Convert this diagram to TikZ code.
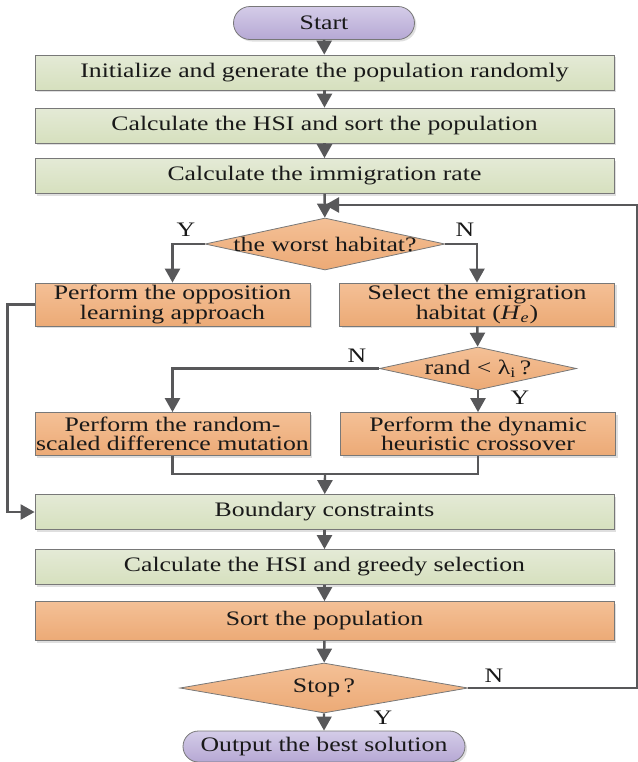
\documentclass[tikz,border=0pt]{standalone}
\usepackage{fontspec}
\setmainfont{Liberation Serif}[FakeStretch=1.25]
\definecolor{edgegray}{RGB}{120,120,120}
\definecolor{arrgray}{RGB}{88,88,90}
\definecolor{greentop}{RGB}{228,234,214}
\definecolor{greenbot}{RGB}{214,224,190}
\definecolor{orangetop}{RGB}{244,192,150}
\definecolor{orangebot}{RGB}{236,170,118}
\definecolor{purpletop}{RGB}{212,204,232}
\definecolor{purplebot}{RGB}{182,168,212}
\usetikzlibrary{arrows.meta, shapes.geometric, shapes.misc, shadows}

\begin{document}
\begin{tikzpicture}[
  x=0.5pt, y=-0.5pt,
  every node/.style={font=\fontsize{10.3}{9.7}\selectfont, text=black!90},
  shade/.style={drop shadow={opacity=0.25, shadow xshift=1pt, shadow yshift=-1pt}},
  box/.style={draw=edgegray, thin, top color=greentop, bottom color=greenbot, shade,
              minimum width=289.5pt, minimum height=17.5pt, inner sep=0pt},
  obox/.style={box, top color=orangetop, bottom color=orangebot, minimum height=19.5pt},
  hbox/.style={draw=edgegray, thin, top color=orangetop, bottom color=orangebot, shade,
               minimum width=137.5pt, minimum height=21.5pt, inner sep=0pt, align=center},
  term/.style={rounded rectangle, draw=edgegray, thin, top color=purpletop,
               bottom color=purplebot, shade, inner sep=0pt},
  decision/.style={diamond, draw=edgegray, thin, top color=orangetop, bottom color=orangebot,
                   inner sep=0pt},
  arr/.style={-{Triangle[length=7pt, width=7.5pt]}, line width=1.2pt, arrgray},
  line/.style={line width=1.2pt, arrgray}
]
\useasboundingbox (0,0) rectangle (638,762);

% main column
\node[term, minimum width=90.5pt, minimum height=16.5pt] (start) at (324,23) {Start};
\node[box] (init) at (324.5,72.5) {Initialize and generate the population randomly};
\node[box] (hsi) at (324.5,125.5) {Calculate the HSI and sort the population};
\node[box] (immig) at (324.5,176) {Calculate the immigration rate};
\coordinate (merge) at (325,205);
\node[decision, minimum width=120pt, minimum height=26pt,
      label=center:{the worst habitat?}] (worst) at (325,244) {};

% branches
\node[hbox] (opp) at (172.5,304.5) {Perform the opposition\\learning approach};
\node[hbox] (sel) at (477,304.5) {Select the emigration\\habitat (\textit{H}\textsubscript{\textit{e}})};
\node[decision, minimum width=98.5pt, minimum height=21.5pt,
      label=center:{rand < λ\textsubscript{i}\,?}] (rnd) at (478,368.5) {};
\node[hbox] (mut) at (172.5,434) {Perform the random-\\scaled difference mutation};
\node[hbox] (cross) at (478,434) {Perform the dynamic\\heuristic crossover};
\coordinate (join) at (325,474);

\node[box] (bound) at (324.5,512) {Boundary constraints};
\node[box] (greedy) at (324.5,567) {Calculate the HSI and greedy selection};
\node[obox] (sort) at (324.5,621) {Sort the population};
\node[decision, minimum width=144pt, minimum height=25pt,
      label=center:{Stop\,?}] (stop) at (324,688) {};
\node[term, minimum width=141pt, minimum height=15.5pt] (out) at (324,746.5) {Output the best solution};

% labels
\node (wy) at (186,230) {Y};
\node (wn) at (465,230) {N};
\node (rn) at (357,356) {N};
\node (ry) at (520,398) {Y};
\node (sn) at (494,676) {N};
\node (sy) at (383,718) {Y};

% connectors
\draw[arr] (start) -- (init);
\draw[arr] (init) -- (hsi);
\draw[arr] (hsi) -- (immig);
\draw[arr] (immig) -- (worst);
\draw[arr] (worst.west) -| (opp);
\draw[arr] (worst.east) -| (sel);
\draw[arr] (sel) -- (rnd);
\draw[arr] (rnd.west) -| (mut);
\draw[arr] (rnd) -- (cross);
\draw[line] (mut) |- (join);
\draw[line] (cross) |- (join);
\draw[arr] (join) -- (bound);
\draw[arr] (opp.west) -- ++(-27,0) |- (bound.west);
\draw[arr] (bound) -- (greedy);
\draw[arr] (greedy) -- (sort);
\draw[arr] (sort) -- (stop);
\draw[arr] (stop) -- (out);
\draw[arr] (stop.east) -- ++(169,0) |- (merge);
\end{tikzpicture}
\end{document}
